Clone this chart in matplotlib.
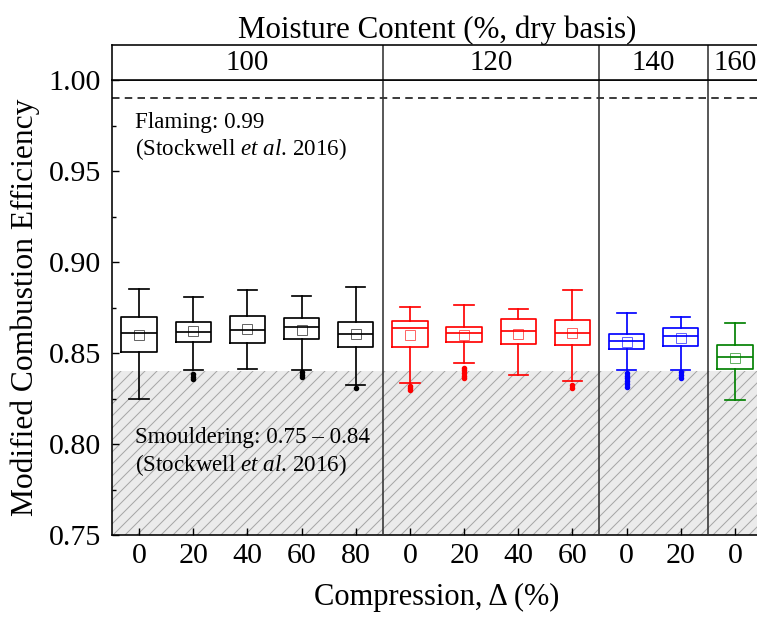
import matplotlib
matplotlib.use("Agg")
import matplotlib.pyplot as plt

DPI = 144
W, H = 757, 619


def pt(px):
    # pixel size -> points at this dpi
    return px * 72.0 / DPI


plt.rcParams['font.family'] = ['Liberation Serif', 'DejaVu Serif']
plt.rcParams['mathtext.fontset'] = 'custom'
plt.rcParams['mathtext.rm'] = 'Liberation Serif'
plt.rcParams['mathtext.it'] = 'Liberation Serif:italic'
plt.rcParams['hatch.linewidth'] = pt(1.0)
plt.rcParams['hatch.color'] = '#a6a6a6'

# moisture content groups and compression levels
moisture = ['100', '120', '140', '160']
compression = [[0, 20, 40, 60, 80], [0, 20, 40, 60], [0, 20], [0]]
colors = ['black', 'red', 'blue', 'green']

# box statistics per group
whislo = [[0.825, 0.8405, 0.841, 0.8407, 0.8324],
          [0.8335, 0.8443, 0.8378, 0.8346],
          [0.8405, 0.8405],
          [0.8242]]
q1 = [[0.8507, 0.8562, 0.8553, 0.8577, 0.8533],
      [0.8535, 0.8562, 0.8551, 0.8546],
      [0.8522, 0.8541],
      [0.8412]]
med = [[0.861, 0.8615, 0.8625, 0.8641, 0.8604],
       [0.8636, 0.8612, 0.8623, 0.8608],
       [0.8566, 0.8593],
       [0.848]]
q3 = [[0.8698, 0.867, 0.8705, 0.8694, 0.8672],
      [0.8676, 0.8645, 0.8685, 0.8681],
      [0.8604, 0.864],
      [0.8544]]
whishi = [[0.885, 0.8806, 0.8848, 0.8815, 0.8865],
          [0.8751, 0.8764, 0.8742, 0.8844],
          [0.8722, 0.8696],
          [0.8663]]
means = [[0.8599, 0.862, 0.8632, 0.8626, 0.8603],
         [0.8597, 0.8597, 0.8606, 0.8612],
         [0.8558, 0.8584],
         [0.8473]]
fliers = [[[], [0.8385, 0.837, 0.8355], [], [0.8395, 0.838, 0.8368], [0.831]],
          [[0.832, 0.8308, 0.8298], [0.842, 0.8405, 0.839, 0.8375, 0.836], [], [0.8325, 0.831]],
          [[0.839, 0.8375, 0.836, 0.8345, 0.833, 0.8315], [0.8395, 0.838, 0.8365]],
          [[]]]

flaming = 0.99
smoulder = (0.75, 0.84)

fig = plt.figure(figsize=(W / DPI, H / DPI), dpi=DPI)
left, right = 112 / W, 762 / W
ax = fig.add_axes([left, (H - 535) / H, right - left, (535 - 80) / H])
hdr = fig.add_axes([left, (H - 80) / H, right - left, (80 - 45) / H])

n_total = sum(len(c) for c in compression)
lw = pt(1.7)

ax.fill_between([-0.5, n_total - 0.5], smoulder[0], smoulder[1],
                facecolor='#ebebeb', hatch='////', edgecolor='#a6a6a6',
                linewidth=0, zorder=0)
ax.axhline(flaming, color='black', ls=(0, (5, 3.5)), lw=pt(1.5), zorder=1)

pos = 0
xticks, xlabels, bounds = [], [], []
for g, comp in enumerate(compression):
    c = colors[g]
    stats = []
    for i, cv in enumerate(comp):
        stats.append(dict(whislo=whislo[g][i], q1=q1[g][i], med=med[g][i],
                          q3=q3[g][i], whishi=whishi[g][i], mean=means[g][i],
                          fliers=fliers[g][i]))
    positions = list(range(pos, pos + len(comp)))
    ax.bxp(stats, positions=positions, widths=0.65, showmeans=True,
           manage_ticks=False,
           boxprops=dict(color=c, lw=lw),
           medianprops=dict(color=c, lw=lw),
           whiskerprops=dict(color=c, lw=lw),
           capprops=dict(color=c, lw=lw),
           capwidths=0.36,
           meanprops=dict(marker='s', markerfacecolor='none', markeredgecolor=c,
                          markersize=pt(10), markeredgewidth=pt(1.0), alpha=0.6),
           flierprops=dict(marker='o', markerfacecolor=c, markeredgecolor=c,
                           markersize=pt(3.5), linestyle='none'))
    xticks += positions
    xlabels += [str(v) for v in comp]
    # header label
    hdr.text(pos + (len(comp) - 1) / 2, 0.5, moisture[g], ha='center', va='center',
             fontsize=pt(29))
    pos += len(comp)
    if g < len(compression) - 1:
        bounds.append(pos - 0.5)

for b in bounds:
    ax.axvline(b, color='#333333', lw=pt(1.6), zorder=3)
    hdr.axvline(b, color='#333333', lw=pt(1.6))

ax.set_xlim(-0.5, n_total - 0.5)
ax.set_ylim(0.75, 1.0)
hdr.set_xlim(-0.5, n_total - 0.5)
hdr.set_ylim(0, 1)
hdr.set_xticks([])
hdr.set_yticks([])

ax.set_xticks(xticks)
ax.set_xticklabels(xlabels)
ax.set_yticks([0.75, 0.80, 0.85, 0.90, 0.95, 1.00])
ax.set_yticklabels(['%.2f' % v for v in [0.75, 0.80, 0.85, 0.90, 0.95, 1.00]])
ax.set_yticks([0.775, 0.825, 0.875, 0.925, 0.975], minor=True)
ax.tick_params(axis='both', which='major', direction='in', length=pt(7), width=pt(1.4),
               labelsize=pt(30))
ax.tick_params(axis='y', which='major', pad=pt(11))
ax.tick_params(axis='x', which='major', pad=pt(8))
ax.tick_params(axis='y', which='minor', direction='in', length=pt(4), width=pt(1.4))
ax.tick_params(axis='x', which='minor', bottom=False)

for a in (ax, hdr):
    for s in a.spines.values():
        s.set_linewidth(pt(1.6))

ax.set_xlabel('Compression, Δ (%)', fontsize=pt(30.5), labelpad=pt(14))
ax.set_ylabel('Modified Combustion Efficiency', fontsize=pt(31.5), labelpad=pt(9))
hdr.set_title('Moisture Content (%, dry basis)', fontsize=pt(31), pad=pt(4))

txt = dict(fontsize=pt(23), ha='left', va='baseline')
ax.text(-0.075, 0.9738, 'Flaming: 0.99', **txt)
ax.text(-0.075, 0.9588, r'(Stockwell $\mathit{et\ al.}\,$2016)', **txt)
ax.text(-0.075, 0.8007, 'Smouldering: 0.75 – 0.84', **txt)
ax.text(-0.075, 0.7852, r'(Stockwell $\mathit{et\ al.}\,$2016)', **txt)

fig.savefig('out.png', dpi=DPI)
